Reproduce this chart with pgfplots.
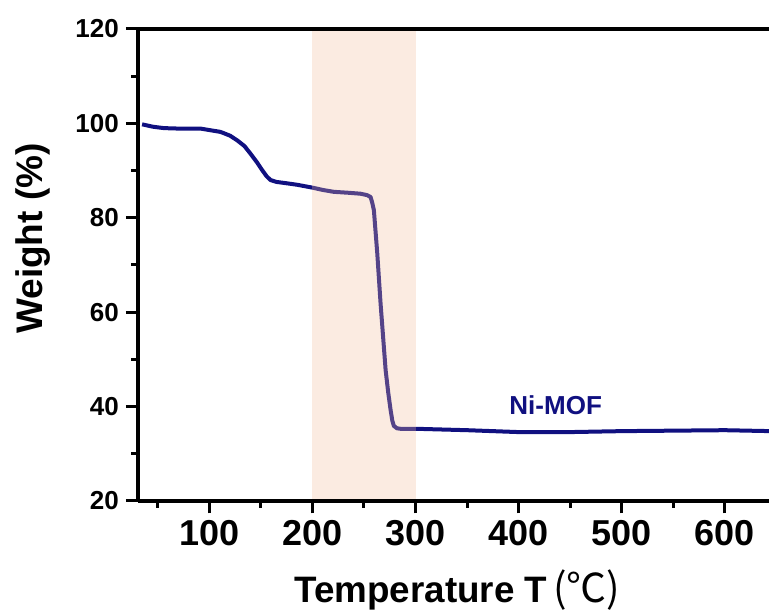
\documentclass[border=0pt]{standalone}
\usepackage{pgfplots}
\pgfplotsset{compat=1.18}
\usepackage{fontspec}
\setmainfont{Liberation Sans}
\newfontfamily\cjk{Noto Sans CJK SC}
\definecolor{navy}{RGB}{16,16,128}
\definecolor{shadecol}{RGB}{242,188,155}
\begin{document}
\begin{tikzpicture}
\begin{axis}[
  scale only axis, width=315.35pt, height=236pt,
  xmin=31, xmax=643, ymin=20, ymax=120,
  axis x line=box, axis y line=left,
  axis line style={-, line width=2pt},
  axis on top,
  xtick={100,200,...,600}, ytick={20,40,...,120},
  minor xtick={50,150,...,650}, minor ytick={30,50,...,110},
  xtick pos=left, ytick pos=left,
  tick align=outside,
  major tick length=6.25pt, minor tick length=3.5pt,
  every tick/.style={black, line width=1.5pt},
  /pgf/number format/assume math mode=true,
  xticklabel style={font=\fontsize{18}{18}\selectfont\bfseries},
  yticklabel style={font=\fontsize{13}{13}\selectfont\bfseries},
  xlabel={Temperature T\hspace{3pt}{\cjk\mdseries\fontsize{20}{20}\selectfont (℃)}},
  ylabel={Weight (\%)},
  xlabel style={at={(axis description cs:0.506,-0.214)}, anchor=base, font=\fontsize{18.4}{18.4}\selectfont\bfseries},
  ylabel style={at={(axis description cs:-0.1665,0.556)}, anchor=center, font=\fontsize{18.5}{18.5}\selectfont\bfseries},
]
\addplot[navy, line width=2pt, line join=round] coordinates {
(34.7,99.8) (45,99.3) (55.7,99.0) (70,98.9) (91.3,98.9) (110.7,98.2) (120,97.4) (127,96.4) (134,95.2) (139.8,93.6) (146,91.8) (151.2,90.1) (155.5,88.8) (159.3,88.0) (165,87.6) (172,87.4) (185,87.0) (199.7,86.4) (210,85.9) (220.7,85.5) (235,85.3) (246.6,85.1) (253,84.8) (256.4,84.4) (258,83.2) (259.6,81.6) (262.9,72.4) (266.1,61.8) (271,47.7) (273.5,43) (275.8,39.3) (277.5,37) (279,35.9) (282,35.4) (285.5,35.3) (300,35.3) (350,35.0) (400,34.6) (450,34.6) (500,34.8) (550,34.9) (600,35.0) (645,34.8)
};
\fill[shadecol, opacity=0.3] (axis cs:200,20) rectangle (axis cs:300,120);
\node[font=\fontsize{13}{13}\selectfont\bfseries, text=navy] at (axis cs:436,40.3) {Ni-MOF};
\end{axis}
\pgfresetboundingbox
\path (current axis.south west) ++(-69.15pt,-56pt) coordinate (bl);
\path (current axis.north east) ++(0pt,14.5pt) coordinate (tr);
\path[use as bounding box] (bl) rectangle (tr);
\end{tikzpicture}
\end{document}
